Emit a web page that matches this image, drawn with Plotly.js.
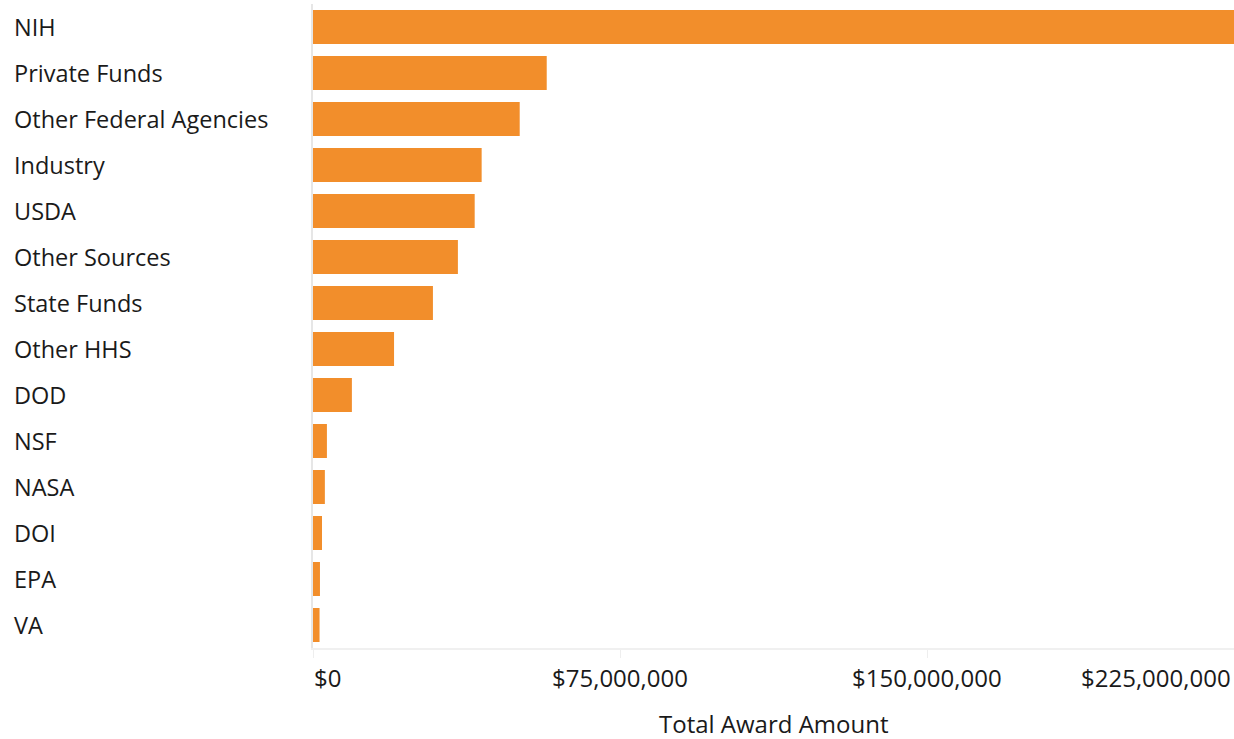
<!DOCTYPE html>
<html>
<head>
<meta charset="utf-8">
<script src="https://cdn.plot.ly/plotly-3.0.1.min.js"></script>
<style>html,body{margin:0;padding:0;background:#fff;}#chart{width:1234px;height:739px;}</style>
</head>
<body>
<div id="chart"></div>
<script>
const categories = ['NIH','Private Funds','Other Federal Agencies','Industry','USDA','Other Sources','State Funds','Other HHS','DOD','NSF','NASA','DOI','EPA','VA'];
const awardAmounts = [225000000, 57100000, 50500000, 41200000, 39500000, 35400000, 29300000, 19800000, 9500000, 3400000, 2900000, 2200000, 1700000, 1600000];
const xTickValues = [0, 75000000, 150000000, 225000000];
const xTickLabels = ['$0', '$75,000,000', '$150,000,000', '$225,000,000'];
const xAxisTitle = 'Total Award Amount';

const FONT = 'Open Sans, sans-serif';
const TEXT = '#1a1a1a';

const trace = {
  type: 'bar',
  orientation: 'h',
  y: categories,
  x: awardAmounts,
  marker: {color: '#F28E2B'},
  hoverinfo: 'none'
};

const annotations = [];
categories.forEach(c => annotations.push({
  xref: 'paper', yref: 'y', x: 0, y: c, xanchor: 'left', yanchor: 'middle',
  xshift: -301, text: c, showarrow: false,
  font: {family: FONT, size: 23.5, color: TEXT}
}));
xTickValues.forEach((v, i) => {
  const last = i === xTickValues.length - 1;
  annotations.push({
    xref: 'x', yref: 'paper', x: v, y: 0,
    xanchor: i === 0 ? 'left' : (last ? 'right' : 'center'),
    xshift: i === 0 ? -1 : (last ? -1 : 0),
    yanchor: 'middle', yshift: -29,
    text: xTickLabels[i], showarrow: false,
    font: {family: FONT, size: 24, color: TEXT}
  });
});
annotations.push({
  xref: 'paper', yref: 'paper', x: 0.5, y: 0, xanchor: 'center', yanchor: 'middle',
  yshift: -75, text: xAxisTitle, showarrow: false,
  font: {family: FONT, size: 24, color: TEXT}
});

const layout = {
  width: 1234, height: 739,
  margin: {l: 313, r: 0, t: 4, b: 91, pad: 0},
  paper_bgcolor: '#ffffff', plot_bgcolor: '#ffffff',
  showlegend: false,
  bargap: 0.26,
  font: {family: FONT, size: 20, color: TEXT},
  xaxis: {
    range: [0, 225000000], fixedrange: true,
    tickvals: xTickValues, showticklabels: false,
    ticks: 'outside', ticklen: 8, tickcolor: '#eeeeee', tickwidth: 1,
    showgrid: false, zeroline: false,
    showline: true, linecolor: '#f0f0f0', linewidth: 2
  },
  yaxis: {
    type: 'category', categoryorder: 'array', categoryarray: categories,
    autorange: 'reversed', showticklabels: false, ticks: '',
    showgrid: false, zeroline: false,
    showline: true, linecolor: '#e6e6e6', linewidth: 2
  },
  annotations: annotations
};

Plotly.newPlot('chart', [trace], layout, {displayModeBar: false, staticPlot: true});
</script>
</body>
</html>
